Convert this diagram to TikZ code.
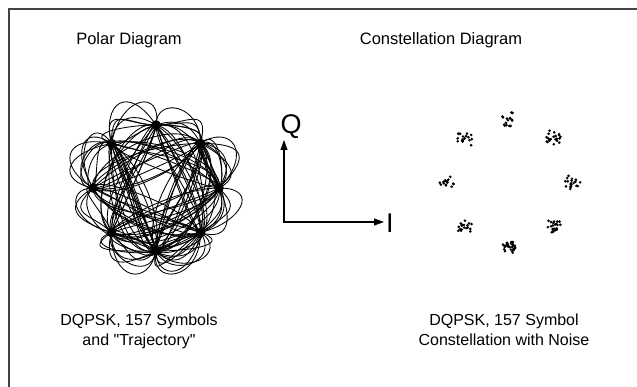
\documentclass[tikz,border=0pt]{standalone}
\usepackage{fontspec}
\setmainfont{Liberation Sans}[Ligatures=TeXOff]
\usetikzlibrary{arrows.meta}
\definecolor{framegray}{RGB}{68,68,68}

\begin{document}
\begin{tikzpicture}[x=1pt, y=-1pt,
  caption/.style={font=\fontsize{16}{19.5}\selectfont, align=center, inner sep=0pt},
  heading/.style={font=\fontsize{16.5}{20}\selectfont, inner sep=0pt},
  axislabel/.style={font=\fontsize{27}{30}\selectfont, inner sep=0pt},
  trajline/.style={line width=0.85pt},
  axisline/.style={line width=1.1pt, {Triangle[length=10pt, width=7pt]}-{Triangle[length=10pt, width=7pt]}}]
  \useasboundingbox (0,0) rectangle (637,387);
  \draw[framegray, line width=2pt] (9,390) -- (9,9) -- (640,9);

  \pgfmathsetseed{157}
  \xdef\lastk{0}
  \foreach \n in {0,...,162} {
    \pgfmathrandominteger{\m}{0}{3}
    \pgfmathtruncatemacro\k{mod(\lastk+2*\m+1,8)}
    \xdef\lastk{\k}
    \expandafter\xdef\csname dk\n\endcsname{\k}
  }

  \node[heading, anchor=base] (polartitle) at (129,45) {Polar Diagram};
  \node[heading, anchor=base] (consttitle) at (441,45) {Constellation Diagram};

  \begin{scope}[shift={(156,188)}]
    \foreach \n in {2,...,158} {
      \edef\ka{\csname dk\the\numexpr\n-2\endcsname}
      \edef\kb{\csname dk\the\numexpr\n-1\endcsname}
      \edef\kc{\csname dk\n\endcsname}
      \edef\kd{\csname dk\the\numexpr\n+1\endcsname}
      \edef\ke{\csname dk\the\numexpr\n+2\endcsname}
      \edef\kf{\csname dk\the\numexpr\n+3\endcsname}
      \pgfmathsetmacro\cx{63*(cos(45*\kc)+(0.95*(cos(45*\kd)-cos(45*\kb))-0.33*(cos(45*\ke)-cos(45*\ka)))/3)}
      \pgfmathsetmacro\cy{63*(sin(45*\kc)+(0.95*(sin(45*\kd)-sin(45*\kb))-0.33*(sin(45*\ke)-sin(45*\ka)))/3)}
      \pgfmathsetmacro\dx{63*(cos(45*\kd)-(0.95*(cos(45*\ke)-cos(45*\kc))-0.33*(cos(45*\kf)-cos(45*\kb)))/3)}
      \pgfmathsetmacro\dy{63*(sin(45*\kd)-(0.95*(sin(45*\ke)-sin(45*\kc))-0.33*(sin(45*\kf)-sin(45*\kb)))/3)}
      \draw[trajline] (45*\kc:63) .. controls (\cx,\cy) and (\dx,\dy) .. (45*\kd:63);
    }
    \foreach \a in {0,45,...,315}
      \fill (\a:63) circle (4.8);
  \end{scope}

  \coordinate (qtip) at (284,140);
  \coordinate (itip) at (384,222);
  \draw[axisline] (qtip) |- (itip);
  \node[axislabel] (qlabel) at (291,127) {Q};
  \node[axislabel, anchor=west] (ilabel) at (386,223) {I};

  \begin{scope}[shift={(509,183)}]
    \foreach \n in {1,...,157} {
      \edef\kc{\csname dk\n\endcsname}
      \pgfmathsetmacro\nx{63*cos(45*\kc)+4.5*(rand+rand)}
      \pgfmathsetmacro\ny{63*sin(45*\kc)+4*(rand+rand)}
      \fill (\nx,\ny) circle (1.45);
    }
  \end{scope}

  \node[caption, anchor=north] (polarcap) at (139,314) {DQPSK, 157 Symbols\\and "Trajectory"};
  \node[caption, anchor=north] (constcap) at (504,314) {DQPSK, 157 Symbol\\Constellation with Noise};
\end{tikzpicture}
\end{document}
